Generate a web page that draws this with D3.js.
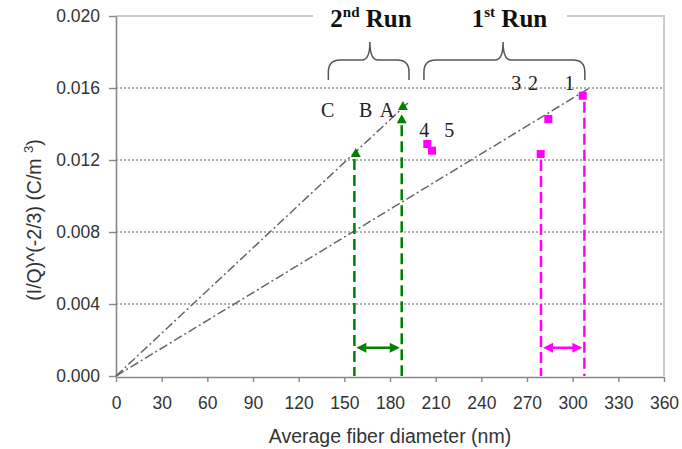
<!DOCTYPE html>
<html>
<head>
    <title>Fiber diameter runs</title>
    <style>
        body { margin: 0; background: #fff; }
        text { font-family: "Liberation Sans", Arial, sans-serif; }
        .serif { font-family: "Liberation Serif", "Times New Roman", serif; }
    </style>
    <script src="https://d3js.org/d3.v7.min.js"></script>
</head>
<body>
</body>

<script type="text/javascript">

    // data
    var xTicks = [0, 30, 60, 90, 120, 150, 180, 210, 240, 270, 300, 330, 360];
    var yTicks = [0, 0.004, 0.008, 0.012, 0.016, 0.020];

    // 2nd run (green triangles)
    var run2X = [157.5, 188.5, 187.7];
    var run2Y = [0.01239, 0.01500, 0.01426];

    // 1st run (magenta squares)
    var run1X = [306.6, 284.0, 279.0, 204.5, 207.6];
    var run1Y = [0.01557, 0.01428, 0.01233, 0.01289, 0.01252];

    // dash-dot fit lines from origin
    var fitEndX = [191.8, 311];
    var fitEndY = [0.01517, 0.0160];

    // dashed drop lines and range arrows
    var run2Bounds = [156.6, 187.7];
    var run2Tops = [0.01239, 0.01426];
    var run1Bounds = [279.2, 307.7];
    var run1Tops = [0.01233, 0.01557];
    var arrowY = 0.00157;

    // point labels
    var pointLabels = ['C', 'B', 'A', '4', '5', '3', '2', '1'];
    var labelX = [139, 164, 178, 202.5, 219, 263, 274, 298];
    var labelY = [0.0144, 0.0144, 0.0144, 0.0133, 0.0133, 0.0159, 0.0159, 0.0159];

    var width = 682, height = 449;

    var x = d3.scaleLinear().domain([0, 360]).range([116, 664]);
    var y = d3.scaleLinear().domain([0, 0.020]).range([376, 16]);

    var svg = d3.select('body')
                    .append('svg')
                    .attr('width', width)
                    .attr('height', height);

    // dotted gridlines
    svg.append('g')
        .selectAll('line')
        .data(yTicks.slice(1, 5))
        .enter()
        .append('line')
        .attr('x1', x(0))
        .attr('x2', x(360))
        .attr('y1', function(d) { return y(d); })
        .attr('y2', function(d) { return y(d); })
        .attr('stroke', '#999')
        .attr('stroke-width', 1.3)
        .attr('stroke-dasharray', '2,2');

    // top and right border
    svg.append('path')
        .attr('d', 'M' + x(0) + ',' + y(0.020) + 'H' + x(360) + 'V' + y(0))
        .attr('fill', 'none')
        .attr('stroke', '#ccc')
        .attr('stroke-width', 2);

    // white box behind the run headers
    svg.append('rect')
        .attr('x', x(129.4))
        .attr('y', y(0.020) - 4)
        .attr('width', x(296.3) - x(129.4))
        .attr('height', 8)
        .attr('fill', '#fff');

    // axes
    var xAxis = d3.axisBottom(x).tickValues(xTicks).tickSize(5).tickSizeOuter(0).tickPadding(15);
    var yAxis = d3.axisLeft(y).tickValues(yTicks).tickSize(7).tickSizeOuter(0).tickPadding(9)
                    .tickFormat(d3.format('.3f'));

    var gx = svg.append('g').attr('transform', 'translate(0,' + (y(0) + 1) + ')').call(xAxis);
    var gy = svg.append('g').attr('transform', 'translate(' + x(0) + ',0)').call(yAxis);

    [gx, gy].forEach(function(g) {
        g.select('.domain').attr('stroke', '#888').attr('stroke-width', 1.6);
        g.selectAll('.tick line').attr('stroke', '#888').attr('stroke-width', 1.4);
        g.selectAll('.tick text')
            .attr('fill', '#333')
            .style('font-size', '17.5px')
            .style('font-family', '"Liberation Sans", Arial, sans-serif');
    });

    // axis titles
    svg.append('text')
        .attr('x', x(180))
        .attr('y', 443)
        .attr('text-anchor', 'middle')
        .attr('fill', '#333')
        .style('font-size', '19.5px')
        .text('Average fiber diameter (nm)');

    var yt = svg.append('text')
        .attr('transform', 'translate(41,220) rotate(-90)')
        .attr('text-anchor', 'middle')
        .attr('fill', '#333')
        .style('font-size', '19.5px');
    yt.append('tspan').text('(I/Q)^(-2/3) (C/m ');
    yt.append('tspan').attr('dy', -8).style('font-size', '13px').text('3');
    yt.append('tspan').attr('dy', 8).text(')');

    // dash-dot fit lines
    svg.append('g')
        .selectAll('line')
        .data(fitEndX)
        .enter()
        .append('line')
        .attr('x1', x(0))
        .attr('y1', y(0))
        .attr('x2', function(d) { return x(d); })
        .attr('y2', function(d, i) { return y(fitEndY[i]); })
        .attr('stroke', '#666')
        .attr('stroke-width', 1.5)
        .attr('stroke-dasharray', '9,3,2,3');

    // dashed drop lines
    function dropLines(bounds, tops, color) {
        svg.append('g')
            .selectAll('line')
            .data(bounds)
            .enter()
            .append('line')
            .attr('x1', function(d) { return x(d); })
            .attr('x2', function(d) { return x(d); })
            .attr('y1', function(d, i) { return y(tops[i]) + 6; })
            .attr('y2', y(0))
            .attr('stroke', color)
            .attr('stroke-width', 2.5)
            .attr('stroke-dasharray', '11,5');
    }
    dropLines(run2Bounds, run2Tops, '#008000');
    dropLines(run1Bounds, run1Tops, '#ff00ff');

    // double-headed arrows
    function rangeArrow(bounds, color) {
        var x1 = x(bounds[0]) + 2, x2 = x(bounds[1]) - 2, yy = y(arrowY);
        var g = svg.append('g');
        g.append('line')
            .attr('x1', x1 + 6).attr('x2', x2 - 6)
            .attr('y1', yy).attr('y2', yy)
            .attr('stroke', color)
            .attr('stroke-width', 2.5);
        g.append('path')
            .attr('d', 'M' + x1 + ',' + yy + 'l10,-5v10z')
            .attr('fill', color);
        g.append('path')
            .attr('d', 'M' + x2 + ',' + yy + 'l-10,-5v10z')
            .attr('fill', color);
    }
    rangeArrow(run2Bounds, '#008000');
    rangeArrow(run1Bounds, '#ff00ff');

    // markers
    svg.append('g')
        .selectAll('path')
        .data(run2X)
        .enter()
        .append('path')
        .attr('transform', function(d, i) { return 'translate(' + x(d) + ',' + y(run2Y[i]) + ')'; })
        .attr('d', 'M0,-5L5,4H-5Z')
        .attr('fill', '#008000');

    svg.append('g')
        .selectAll('rect')
        .data(run1X)
        .enter()
        .append('rect')
        .attr('x', function(d) { return x(d) - 4; })
        .attr('y', function(d, i) { return y(run1Y[i]) - 4; })
        .attr('width', 8)
        .attr('height', 8)
        .attr('fill', '#ff00ff');

    // point labels
    svg.append('g')
        .selectAll('text')
        .data(pointLabels)
        .enter()
        .append('text')
        .attr('class', 'serif')
        .attr('x', function(d, i) { return x(labelX[i]); })
        .attr('y', function(d, i) { return y(labelY[i]); })
        .attr('text-anchor', 'middle')
        .attr('fill', '#222')
        .style('font-size', '20px')
        .text(function(d) { return d; });

    // curly braces over each run
    function brace(x1, x2, xm) {
        var top = 42, mid = 60, bot = 80, r = 12;
        return 'M' + x1 + ',' + bot + 'V' + (mid + r) + 'Q' + x1 + ',' + mid + ' ' + (x1 + r) + ',' + mid
            + 'H' + (xm - 8) + 'Q' + xm + ',' + mid + ' ' + xm + ',' + top
            + 'Q' + xm + ',' + mid + ' ' + (xm + 8) + ',' + mid
            + 'H' + (x2 - r) + 'Q' + x2 + ',' + mid + ' ' + x2 + ',' + (mid + r) + 'V' + bot;
    }
    svg.append('path')
        .attr('d', brace(x(139.5), x(192.5), x(166.8)))
        .attr('fill', 'none')
        .attr('stroke', '#555')
        .attr('stroke-width', 1.5);
    svg.append('path')
        .attr('d', brace(x(202.3), x(308), x(254.3)))
        .attr('fill', 'none')
        .attr('stroke', '#555')
        .attr('stroke-width', 1.5);

    // run headers
    function runTitle(cx, num, sup) {
        var t = svg.append('text')
            .attr('class', 'serif')
            .attr('x', cx)
            .attr('y', 27)
            .attr('text-anchor', 'middle')
            .attr('fill', '#111')
            .style('font-size', '25px')
            .style('font-weight', 'bold');
        t.append('tspan').text(num);
        t.append('tspan').attr('dy', -10).style('font-size', '15px').text(sup);
        t.append('tspan').attr('dy', 10).text(' Run');
    }
    runTitle(x(167.5), '2', 'nd');
    runTitle(x(258.5), '1', 'st');

</script>
</html>
